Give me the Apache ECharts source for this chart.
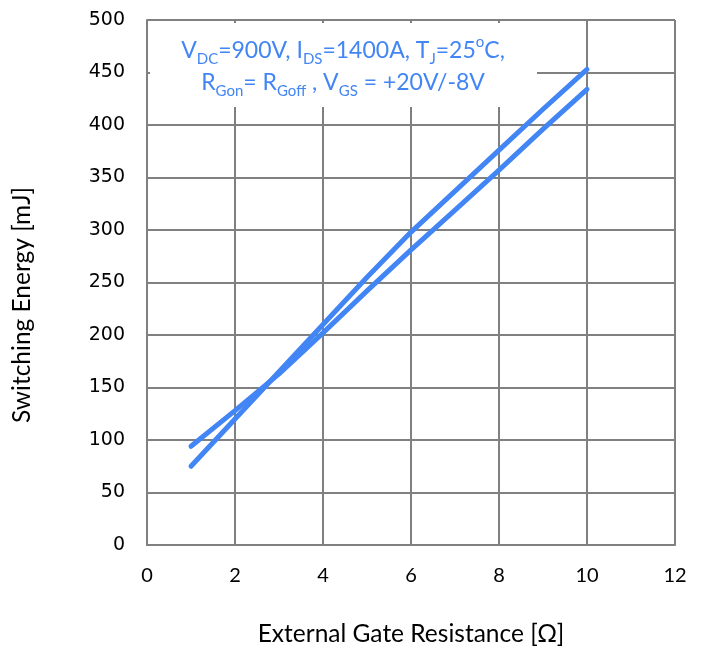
<!DOCTYPE html>
<html><head><meta charset="utf-8">
<script src="https://cdn.jsdelivr.net/npm/echarts@6/dist/echarts.min.js"></script>
<style>html,body{margin:0;padding:0;background:#fff}#c{width:704px;height:652px}</style>
</head><body><div id="c"></div>
<script>
const resistance = [1, 2, 3, 4, 5, 6, 7, 8, 9, 10];
const energyA = [75, 120, 165, 210, 255, 298, 337, 376, 415, 453];
const energyB = [94, 128, 163, 202, 242, 281, 319, 357, 396, 434];
const xTicks = [0, 2, 4, 6, 8, 10, 12];
const yTicks = [0, 50, 100, 150, 200, 250, 300, 350, 400, 450, 500];

const blue = '#4285F4';
const grey = '#808080';
const chart = echarts.init(document.getElementById('c'));
const mk = arr => resistance.map((x, i) => [x, arr[i]]);
const lineSeries = (d) => ({
  type: 'line', data: mk(d), showSymbol: false, symbol: 'none',
  lineStyle: { color: blue, width: 5, cap: 'round', join: 'round' },
  z: 5, animation: false
});
const sub = { fontSize: 15, lineHeight: 12, verticalAlign: 'bottom', fontFamily: 'Lato', color: blue };
const sup = { fontSize: 15, lineHeight: 22, verticalAlign: 'top', fontFamily: 'Lato', color: blue };
chart.setOption({
  animation: false,
  grid: { left: 147, right: 29, top: 20, bottom: 106 },
  xAxis: {
    type: 'value', min: xTicks[0], max: xTicks[xTicks.length - 1], interval: 2,
    name: 'External Gate Resistance [Ω]', nameLocation: 'middle', nameGap: 77,
    nameTextStyle: { fontFamily: 'Lato', fontSize: 24.5, color: '#000' },
    axisLine: { show: true, lineStyle: { color: grey, width: 2 } },
    axisTick: { show: false },
    axisLabel: { fontFamily: 'Lato', fontSize: 20, color: '#000', margin: 21 },
    splitLine: { show: true, lineStyle: { color: grey, width: 2 } }
  },
  yAxis: {
    type: 'value', min: yTicks[0], max: yTicks[yTicks.length - 1], interval: 50,
    axisLine: { show: true, lineStyle: { color: grey, width: 2 } },
    axisTick: { show: false },
    axisLabel: { fontFamily: 'DejaVu Sans', fontSize: 19, color: '#000', margin: 22 },
    splitLine: { show: true, lineStyle: { color: grey, width: 2 } }
  },
  graphic: [
    { type: 'rect', shape: { x: 150, y: 23, width: 387, height: 84 }, style: { fill: '#fff' }, z: 1 },
    { type: 'text', x: 343, y: 35, z: 3,
      style: {
        text: 'V{sub|DC}=900V, I{sub|DS}=1400A, T{sub|J}=25{sup|o}C,\nR{sub|Gon}= R{sub|Goff} , V{sub|GS} = +20V/-8V',
        fontFamily: 'Lato', fontSize: 23, lineHeight: 32, fill: blue, align: 'center', verticalAlign: 'top',
        rich: { sub: sub, sup: sup }
      } },
    { type: 'text', x: 22, y: 305, rotation: Math.PI / 2, z: 3,
      style: { text: 'Switching Energy [mJ]', fontFamily: 'Lato', fontSize: 24.5, fill: '#000',
        align: 'center', verticalAlign: 'middle' } }
  ],
  series: [lineSeries(energyA), lineSeries(energyB)]
});
</script></body></html>
